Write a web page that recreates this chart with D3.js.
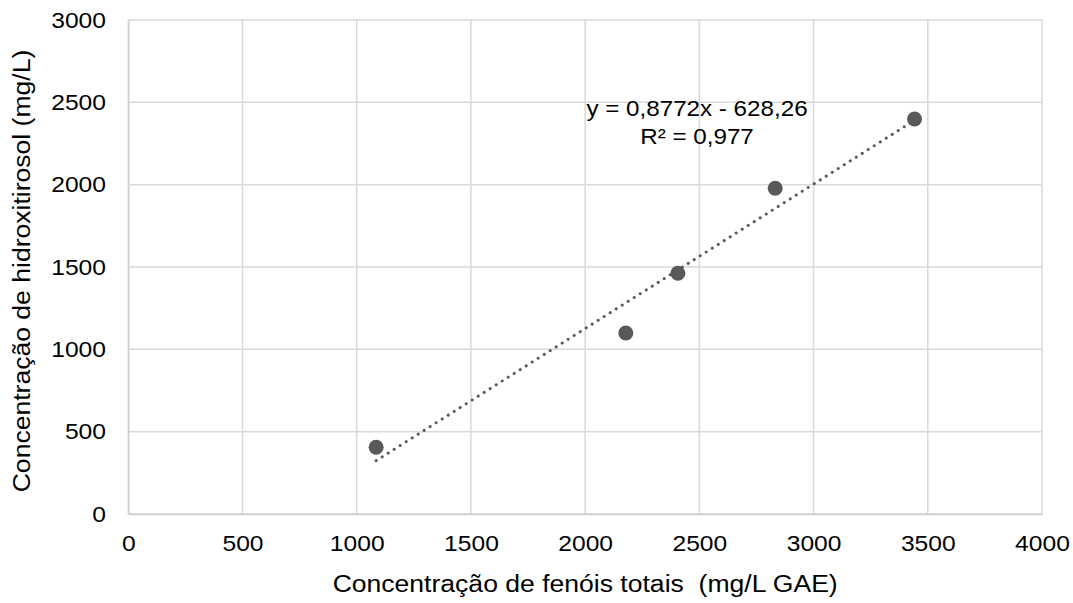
<!DOCTYPE html>
<html>
<head>
<meta charset="utf-8">
<script src="https://cdn.jsdelivr.net/npm/d3@7"></script>
<style>
  html, body { margin: 0; padding: 0; background: #fff; }
  svg { display: block; font-family: "Liberation Sans", Arial, sans-serif; }
  text { white-space: pre; }
</style>
</head>
<body>
<svg id="chart" width="1073" height="603"></svg>
<script>
// Phenolic content (x) vs hydroxytyrosol content (y)
const fenoisTotais = [1085, 2178, 2406, 2832, 3442];
const hidroxitirosol = [405, 1099, 1462, 1978, 2399];
const xTicks = [0, 500, 1000, 1500, 2000, 2500, 3000, 3500, 4000];
const yTicks = [0, 500, 1000, 1500, 2000, 2500, 3000];
const slope = 0.8772;
const intercept = -628.26;
const equationLines = ["y = 0,8772x - 628,26", "R² = 0,977"];
const xTitle = "Concentração de fenóis totais  (mg/L GAE)";
const yTitle = "Concentração de hidroxitirosol (mg/L)";

const svg = d3.select("#chart");
const W = 1073, H = 603;
const margin = { left: 128.3, right: W - 1042, top: 20, bottom: H - 514 };

const x = d3.scaleLinear().domain([0, 4000]).range([margin.left, W - margin.right]);
const y = d3.scaleLinear().domain([0, 3000]).range([H - margin.bottom, margin.top]);

const gridColor = "#d9d9d9";
const markColor = "#595959";

// widened glyphs along the reading direction
const tickFont = 22, tickStretch = 1.12;
const eqFont = 22, eqStretch = 1.1;
const titleFont = 23.5, titleStretch = 1.13;

// gridlines
svg.append("g")
  .selectAll("line")
  .data(xTicks)
  .join("line")
  .attr("x1", d => x(d)).attr("x2", d => x(d))
  .attr("y1", y(0)).attr("y2", y(3000))
  .attr("stroke", gridColor).attr("stroke-width", 1.5);

svg.append("g")
  .selectAll("line")
  .data(yTicks)
  .join("line")
  .attr("x1", x(0)).attr("x2", x(4000))
  .attr("y1", d => y(d)).attr("y2", d => y(d))
  .attr("stroke", gridColor).attr("stroke-width", 1.5);

// axes
const xAxis = svg.append("g")
  .attr("transform", `translate(0,${y(0)})`)
  .call(d3.axisBottom(x).tickValues(xTicks).tickSize(0).tickPadding(21.1).tickFormat(d3.format("d")));
const yAxis = svg.append("g")
  .attr("transform", `translate(${x(0)},0)`)
  .call(d3.axisLeft(y).tickValues(yTicks).tickSize(0).tickPadding(22.3).tickFormat(d3.format("d")));

[xAxis, yAxis].forEach(g => {
  g.select(".domain").attr("stroke", "#cfcfcf").attr("stroke-width", 1.5);
  g.selectAll("text")
    .attr("font-family", "Liberation Sans, Arial, sans-serif")
    .attr("font-size", tickFont)
    .attr("fill", "#000")
    .attr("transform", `scale(${tickStretch},1)`);
});
yAxis.selectAll("text").attr("x", -22.3 / tickStretch);

// linear trendline over the data range
const xr = d3.extent(fenoisTotais);
svg.append("line")
  .attr("x1", x(xr[0])).attr("y1", y(slope * xr[0] + intercept))
  .attr("x2", x(xr[1])).attr("y2", y(slope * xr[1] + intercept))
  .attr("stroke", markColor)
  .attr("stroke-width", 3)
  .attr("stroke-linecap", "round")
  .attr("stroke-dasharray", "0.1 7");

// data points
svg.append("g")
  .selectAll("circle")
  .data(fenoisTotais.map((v, i) => [v, hidroxitirosol[i]]))
  .join("circle")
  .attr("cx", d => x(d[0]))
  .attr("cy", d => y(d[1]))
  .attr("r", 7.5)
  .attr("fill", markColor);

// regression label
const eq = svg.append("text")
  .attr("transform", `translate(697,116) scale(${eqStretch},1)`)
  .attr("text-anchor", "middle")
  .attr("font-size", eqFont)
  .attr("fill", "#000");
equationLines.forEach((t, i) => {
  eq.append("tspan").attr("x", 0).attr("y", i * 28).text(t);
});

// axis titles
svg.append("text")
  .attr("transform", `translate(${(x(0) + x(4000)) / 2},592) scale(${titleStretch},1)`)
  .attr("text-anchor", "middle")
  .attr("font-size", titleFont)
  .attr("fill", "#000")
  .text(xTitle);

svg.append("text")
  .attr("transform", `translate(30,271) rotate(-90) scale(${titleStretch},1)`)
  .attr("text-anchor", "middle")
  .attr("font-size", titleFont)
  .attr("fill", "#000")
  .text(yTitle);
</script>
</body>
</html>
